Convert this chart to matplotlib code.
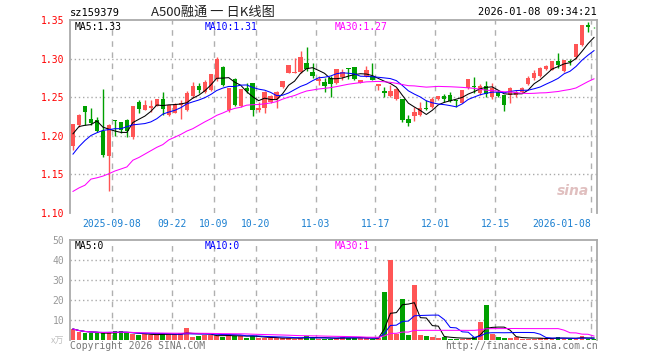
import matplotlib
matplotlib.use("Agg")
import matplotlib.pyplot as plt
import numpy as np
import pandas as pd

# 日K数据 (2025-08-28 ~ 2026-01-08)
opens = [1.187, 1.214, 1.239, 1.222, 1.221, 1.206, 1.174, 1.221, 1.2175, 1.221,
         1.198, 1.244, 1.234, 1.236, 1.2386, 1.2474, 1.2268, 1.2298, 1.240, 1.2333,
         1.251, 1.265, 1.2566, 1.2597, 1.2737, 1.2895, 1.2333, 1.2737, 1.2386, 1.2618,
         1.2684, 1.2333, 1.2355, 1.2443, 1.2474, 1.2627, 1.2816, 1.2816, 1.2829, 1.2947,
         1.2829, 1.2706, 1.2693, 1.275, 1.2684, 1.2759, 1.2881, 1.2895, 1.2684, 1.2772,
         1.2781, 1.264, 1.2575, 1.2518, 1.2474, 1.2474, 1.2215, 1.2254, 1.2268, 1.2364,
         1.2377, 1.2474, 1.2518, 1.2531, 1.2465, 1.243, 1.2614, 1.264, 1.2548, 1.2645,
         1.2504, 1.2561, 1.2526, 1.2526, 1.2526, 1.2561, 1.2667, 1.2746, 1.2776, 1.2868,
         1.2855, 1.2974, 1.2833, 1.2965, 1.3018, 1.3171, 1.3434, 1.3399]
highs = [1.215, 1.228, 1.239, 1.236, 1.224, 1.261, 1.215, 1.221, 1.218, 1.222,
         1.239, 1.247, 1.247, 1.247, 1.2474, 1.2566, 1.240, 1.243, 1.246, 1.2575,
         1.2697, 1.268, 1.272, 1.2803, 1.3022, 1.2903, 1.2618, 1.275, 1.2605, 1.268,
         1.2684, 1.2443, 1.2575, 1.253, 1.2575, 1.2715, 1.292, 1.3009, 1.31, 1.3145,
         1.2947, 1.278, 1.275, 1.2772, 1.2868, 1.2868, 1.2881, 1.2895, 1.2728, 1.2903,
         1.2939, 1.2675, 1.2627, 1.2662, 1.2618, 1.2474, 1.2263, 1.2377, 1.2443, 1.2465,
         1.25, 1.2518, 1.2544, 1.2561, 1.2465, 1.2588, 1.2737, 1.2768, 1.2667, 1.2711,
         1.268, 1.2592, 1.2526, 1.2636, 1.2592, 1.2636, 1.2776, 1.2855, 1.2895, 1.2921,
         1.2974, 1.3075, 1.2987, 1.30, 1.3184, 1.3434, 1.3469, 1.3404]
lows = [1.181, 1.212, 1.214, 1.214, 1.205, 1.173, 1.129, 1.200, 1.203, 1.199,
        1.196, 1.230, 1.233, 1.231, 1.238, 1.2268, 1.226, 1.229, 1.222, 1.2325,
        1.249, 1.2553, 1.2553, 1.258, 1.2706, 1.265, 1.231, 1.238, 1.237, 1.2553,
        1.2254, 1.2311, 1.2289, 1.243, 1.2364, 1.262, 1.281, 1.281, 1.2816, 1.2838,
        1.275, 1.266, 1.2561, 1.250, 1.267, 1.2728, 1.2737, 1.272, 1.268, 1.2765,
        1.2728, 1.2597, 1.2509, 1.2509, 1.246, 1.2185, 1.2123, 1.2189, 1.2254, 1.2333,
        1.2355, 1.2465, 1.2443, 1.2443, 1.2377, 1.242, 1.26, 1.2557, 1.2526, 1.2504,
        1.2482, 1.2504, 1.2316, 1.243, 1.2504, 1.2548, 1.2658, 1.2724, 1.2768, 1.2855,
        1.2846, 1.2877, 1.282, 1.2912, 1.30, 1.3157, 1.3351, 1.339]
closes = [1.215, 1.227, 1.231, 1.217, 1.206, 1.175, 1.214, 1.219, 1.208, 1.206,
          1.239, 1.235, 1.2395, 1.2386, 1.2474, 1.2351, 1.2399, 1.2412, 1.2425, 1.2553,
          1.265, 1.2588, 1.2693, 1.2803, 1.2991, 1.2662, 1.2618, 1.2399, 1.2605, 1.2575,
          1.2333, 1.2364, 1.2561, 1.2518, 1.2566, 1.2715, 1.2912, 1.2829, 1.3022, 1.2868,
          1.2781, 1.2737, 1.264, 1.2671, 1.2868, 1.2829, 1.2859, 1.2737, 1.2728, 1.2846,
          1.2728, 1.2675, 1.2557, 1.2583, 1.2605, 1.2202, 1.2167, 1.2311, 1.2355, 1.2346,
          1.2474, 1.2518, 1.2474, 1.2456, 1.245, 1.2588, 1.2737, 1.2627, 1.2649, 1.2535,
          1.2623, 1.2518, 1.2395, 1.2623, 1.2561, 1.2623, 1.2754, 1.2811, 1.2877, 1.2908,
          1.2974, 1.2912, 1.2987, 1.2956, 1.3184, 1.3434, 1.3404, 1.3395]
# 成交量 (万)
volumes = [5.5, 4.0, 3.3, 3.3, 3.3, 3.3, 4.0, 4.3, 4.3, 3.3,
           2.8, 2.3, 3.0, 2.7, 2.7, 3.2, 2.8, 2.8, 3.3, 5.8,
           1.7, 2.2, 2.7, 2.5, 1.8, 1.7, 2.5, 2.2, 2.2, 1.2,
           2.0, 1.2, 0.8, 1.2, 0.8, 0.8, 1.2, 0.7, 1.2, 2.0,
           1.2, 0.7, 0.7, 0.4, 1.2, 1.7, 1.0, 1.0, 1.0, 1.0,
           0.7, 1.0, 24.0, 40.0, 2.8, 20.5, 2.5, 27.5, 2.5, 2.0,
           1.5, 1.2, 1.5, 0.7, 0.7, 0.7, 0.7, 1.3, 9.0, 17.5,
           3.0, 1.5, 1.2, 1.2, 1.5, 0.7, 0.7, 0.7, 1.0, 0.7,
           0.7, 1.5, 0.7, 0.7, 0.7, 2.0, 0.7, 0.7]

# 图中可见区间之前的均线值 (含更早数据, 按图读取)
ma5_head = [1.2026, 1.212, 1.2136, 1.2145]
ma10_head = [1.1763, 1.186, 1.1939, 1.2004, 1.204, 1.207, 1.208, 1.2092, 1.2092]
ma30_head = [1.128, 1.1325, 1.136, 1.1439, 1.1456, 1.1478, 1.1509, 1.1544, 1.157, 1.1597,
             1.1684, 1.1719, 1.1763, 1.1807, 1.1851, 1.1886, 1.1947, 1.1982, 1.2018, 1.2061,
             1.2092, 1.2136, 1.218, 1.222, 1.2265, 1.2295, 1.233, 1.2355, 1.237]

tick_idx = [7, 17, 24, 31, 41, 51, 61, 71, 87]
tick_labels = ["2025-09-08", "09-22", "10-09", "10-20", "11-03", "11-17",
               "12-01", "12-15", "2026-01-08"]

RED = "#ff5555"
GREEN = "#00a000"
MONO = "DejaVu Sans Mono"
CJK = ["Noto Sans CJK SC", "DejaVu Sans"]
LW = 0.75


def moving_avg(values, n, head):
    ma = pd.Series(values).rolling(n).mean().to_numpy()
    ma[:len(head)] = head
    return ma


def fx(px):
    return px / 660


def fy(py):
    return 1 - py / 360


x = np.arange(len(closes))
o = np.array(opens)
c = np.array(closes)
up = c >= o
colors = np.where(up, RED, GREEN)

ma5 = moving_avg(closes, 5, ma5_head)
ma10 = moving_avg(closes, 10, ma10_head)
ma30 = moving_avg(closes, 30, ma30_head)

vol = pd.Series(volumes)
vma5 = vol.rolling(5, min_periods=1).mean()
vma10 = vol.rolling(10, min_periods=1).mean()
vma30 = vol.rolling(30, min_periods=1).mean()

fig = plt.figure(figsize=(6.6, 3.6), dpi=100)
ax = fig.add_axes([fx(70), fy(213), (597 - 70) / 660, (213 - 20) / 360])
axv = fig.add_axes([fx(70), fy(340), (597 - 70) / 660, 100 / 360])


def style_axes(a):
    for side in ["left", "top", "right"]:
        a.spines[side].set_color("#aaaaaa")
        a.spines[side].set_linewidth(1.3)
    a.spines["bottom"].set_visible(False)
    a.set_xlim(-0.5, len(closes) - 0.5)
    for t in tick_idx:
        a.axvline(t - 0.5, color="#b0b0b0", lw=1, dashes=(4, 4), zorder=0)
    a.tick_params(axis="y", length=0, labelsize=7, pad=4)
    for lab in a.get_yticklabels():
        lab.set_fontfamily(MONO)


# K线
body_lo = np.minimum(o, c)
body_h = np.maximum(np.abs(c - o), 0.0007)
ax.vlines(x, lows, highs, color=colors, lw=1, zorder=2)
ax.bar(x, body_h, bottom=body_lo, width=0.72, color=colors, zorder=3)
ax.plot(x, ma5, color="black", lw=LW, zorder=4)
ax.plot(x, ma10, color="#0000ff", lw=LW, zorder=4)
ax.plot(x, ma30, color="#ff00ff", lw=LW, zorder=4)

ax.set_ylim(1.10, 1.35)
yt = [1.10, 1.15, 1.20, 1.25, 1.30, 1.35]
ax.set_yticks(yt)
ax.set_yticklabels([f"{v:.2f}" for v in yt], color="red")
for v in yt[1:-1]:
    ax.axhline(v, color="#aaaaaa", lw=1, dashes=(1, 2), zorder=0)
ax.set_xticks([t - 0.5 for t in tick_idx])
ax.set_xticklabels(tick_labels, color="#1a7fd0", fontsize=7, fontfamily=MONO)
ax.tick_params(axis="x", length=0, pad=4)
ax.get_xticklabels()[-1].set_ha("right")
style_axes(ax)
ax.text(0.985, 0.08, "sina", transform=ax.transAxes, ha="right", va="bottom",
        fontsize=10, fontstyle="italic", fontweight="bold", color="#d9b0b0", alpha=0.8)

# 成交量
axv.bar(x, volumes, width=0.8, color=colors, zorder=2)
axv.plot(x, vma5, color="black", lw=LW, zorder=3)
axv.plot(x, vma10, color="#0000ff", lw=LW, zorder=3)
axv.plot(x, vma30, color="#ff00ff", lw=LW, zorder=3)
axv.set_ylim(0, 50)
vt = [10, 20, 30, 40, 50]
axv.set_yticks(vt)
axv.set_yticklabels([str(v) for v in vt], color="#999999")
for v in vt[:-1]:
    axv.axhline(v, color="#aaaaaa", lw=1, dashes=(1, 2), zorder=0)
axv.set_xticks([])
style_axes(axv)

# 文字
fig.text(fx(70), fy(13), "sz159379", fontsize=7.5, fontfamily=MONO, va="center")
fig.text(fx(213), fy(12), "A500融通 一 日K线图", fontsize=9.5, family=CJK,
         ha="center", va="center", color="#222222")
fig.text(fx(597), fy(12), "2026-01-08 09:34:21", fontsize=7.5, fontfamily=MONO,
         ha="right", va="center")

fig.text(fx(75), fy(27), f"MA5:{ma5[-1]:.2f}", fontsize=7, fontfamily=MONO, va="center")
fig.text(fx(205), fy(27), f"MA10:{ma10[-1]:.2f}", fontsize=7, fontfamily=MONO,
         va="center", color="#0000ff")
fig.text(fx(335), fy(27), f"MA30:{ma30[-1]:.2f}", fontsize=7, fontfamily=MONO,
         va="center", color="#ff00ff")

fig.text(fx(75), fy(246), "MA5:0", fontsize=7, fontfamily=MONO, va="center")
fig.text(fx(205), fy(246), "MA10:0", fontsize=7, fontfamily=MONO, va="center", color="#0000ff")
fig.text(fx(335), fy(246), "MA30:1", fontsize=7, fontfamily=MONO, va="center", color="#ff00ff")

fig.text(fx(64), fy(341), "x万", fontsize=6.5, family=CJK, ha="right", va="center",
         color="#c0c0c0")
fig.text(fx(70), fy(346), "Copyright 2026 SINA.COM", fontsize=7, fontfamily=MONO,
         va="center", color="#777777")
fig.text(fx(598), fy(346), "http://finance.sina.com.cn", fontsize=7, fontfamily=MONO,
         ha="right", va="center", color="#777777")

fig.savefig("out.png", dpi=100)
